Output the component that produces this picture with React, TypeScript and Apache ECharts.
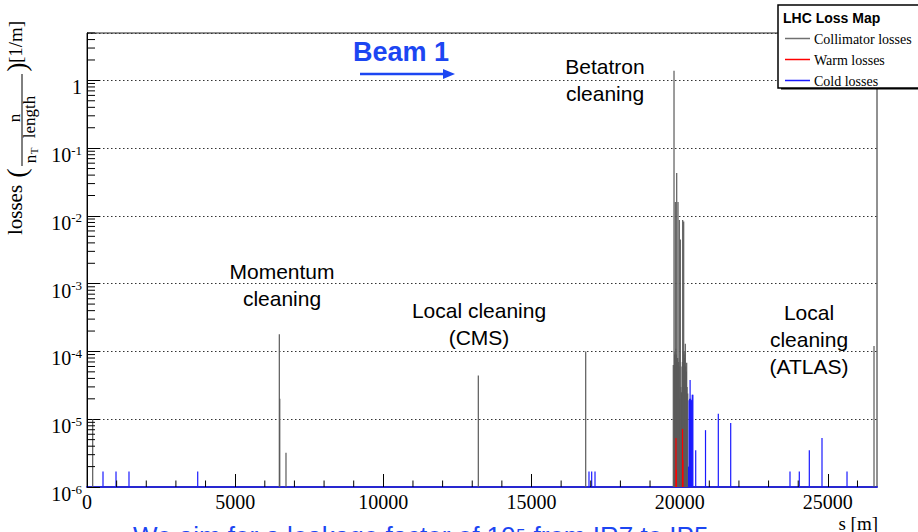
import React, { useEffect, useRef } from 'react';
import * as echarts from 'echarts';

// ---- data (s in metres, losses in 1/m) ----
const S_MAX = 26659;
const Y_MIN = 1e-6;
const Y_MAX = 5;

const collimatorLosses: [number, number][] = [
  [192, 1.0e-5],
  [6490, 1.8e-4],
  [6505, 2.0e-5],
  [6715, 3.2e-6],
  [13205, 4.4e-5],
  [16829, 1.0e-4],
  [19785, 6.3e-5],
  [19809, 1.39],
  [19830, 9e-5],
  [19840, 1e-4],
  [19853, 1.6e-2],
  [19870, 1.1e-4],
  [19890, 9e-5],
  [19900, 4.3e-2],
  [19920, 8e-5],
  [19935, 8e-5],
  [19944, 1.6e-2],
  [19965, 7e-5],
  [19978, 6e-5],
  [19988, 8.7e-3],
  [20005, 2e-5],
  [20022, 4.5e-3],
  [20040, 3e-5],
  [20060, 2.5e-5],
  [20080, 6e-5],
  [20092, 7e-5],
  [20102, 8.7e-3],
  [20120, 1e-4],
  [20136, 8.3e-3],
  [20148, 9e-5],
  [20160, 8e-5],
  [20175, 1e-4],
  [20190, 1.3e-4],
  [20205, 6e-5],
  [20215, 5e-5],
  [20225, 5e-5],
  [20237, 6.8e-5],
  [20250, 3e-5],
  [20271, 2.4e-5],
  [26558, 1.2e-4],
];

const warmLosses: [number, number][] = [
  [19876, 5.3e-6],
  [19890, 1.8e-6],
  [20096, 7.2e-6],
  [20110, 2.5e-6],
];

const coldLosses: [number, number][] = [
  [540, 1.7e-6],
  [979, 1.7e-6],
  [1417, 1.7e-6],
  [3736, 1.7e-6],
  [16940, 1.7e-6],
  [17031, 1.7e-6],
  [17143, 1.7e-6],
  [20300, 2.0e-6],
  [20318, 1.9e-5],
  [20335, 2.0e-5],
  [20352, 3.8e-5],
  [20370, 2.0e-5],
  [20390, 1.9e-5],
  [20408, 1.9e-5],
  [20425, 2.3e-5],
  [20445, 2.3e-5],
  [20541, 3.5e-6],
  [20872, 6.9e-6],
  [21304, 1.2e-5],
  [21722, 8.8e-6],
  [23723, 1.7e-6],
  [24037, 1.7e-6],
  [24375, 3.5e-6],
  [24803, 5.3e-6],
  [25647, 1.7e-6],
];

const xMinorTicks = [1000, 2000, 3000, 4000, 6000, 7000, 8000, 9000, 11000, 12000, 13000, 14000,
  16000, 17000, 18000, 19000, 21000, 22000, 23000, 24000, 26000];
const yDecades = [1e-6, 1e-5, 1e-4, 1e-3, 1e-2, 1e-1, 1];
const yMantissas = [2, 3, 4, 5, 6, 7, 8, 9];

const legendEntries = [
  { name: 'Collimator losses', color: '#707070' },
  { name: 'Warm losses', color: '#ff0000' },
  { name: 'Cold losses', color: '#1a1aff' },
];

const SERIF = '"Liberation Serif", "DejaVu Serif", serif';
const SANS = '"Liberation Sans", Arial, sans-serif';

function spikeSeries(name: string, data: [number, number][], color: string, z: number) {
  return {
    type: 'custom',
    name,
    data,
    z,
    silent: true,
    encode: { x: 0, y: 1 },
    renderItem: (_p: any, api: any) => {
      const s = api.value(0);
      const v = api.value(1);
      const top = api.coord([s, v]);
      const base = api.coord([s, Y_MIN]);
      return {
        type: 'line',
        shape: { x1: top[0], y1: base[1], x2: top[0], y2: top[1] },
        style: { stroke: color, lineWidth: 1.2 },
      };
    },
  };
}

function txt(x: number, y: number, text: string, font: string, fill = '#000', align = 'center', vAlign = 'middle', lineHeight?: number, rotation = 0, z = 50) {
  return {
    type: 'text',
    x,
    y,
    rotation,
    z,
    silent: true,
    style: {
      text,
      font,
      fill,
      align,
      verticalAlign: vAlign,
      textAlign: align,
      textVerticalAlign: vAlign,
      lineHeight,
    },
  };
}

export default function App() {
  const ref = useRef<HTMLDivElement>(null);

  useEffect(() => {
    if (!ref.current) return;
    const chart = echarts.init(ref.current, undefined, { renderer: 'svg' });

    const yMinor: [number, number][] = [];
    yDecades.forEach((d) => yMantissas.forEach((m) => {
      const v = d * m;
      if (v <= Y_MAX) yMinor.push([0, v]);
    }));

    const graphics: any[] = [
      // annotations
      txt(401, 52, 'Beam 1', `bold 27px ${SANS}`, '#1c46f2'),
      { type: 'line', z: 50, silent: true, shape: { x1: 360, y1: 74, x2: 446, y2: 74 }, style: { stroke: '#1c46f2', lineWidth: 2.5 } },
      { type: 'polygon', z: 50, silent: true, shape: { points: [[443, 69], [455, 74], [443, 79]] }, style: { fill: '#1c46f2' } },
      txt(605, 80, 'Betatron\ncleaning', `21px ${SANS}`, '#000', 'center', 'middle', 27),
      txt(282, 285, 'Momentum\ncleaning', `21px ${SANS}`, '#000', 'center', 'middle', 27),
      txt(479, 324, 'Local cleaning\n(CMS)', `21px ${SANS}`, '#000', 'center', 'middle', 27),
      txt(809, 339, 'Local\ncleaning\n(ATLAS)', `21px ${SANS}`, '#000', 'center', 'middle', 27),
      // bottom caption (cut off by the page edge, as in the reference)
      txt(133, 523, 'We aim for a leakage factor of 10⁵ from IR7 to IP5', `26px ${SANS}`, '#1c46f2', 'left', 'top'),
      // x axis name
      txt(878, 523, 's [m]', `19px ${SERIF}`, '#000', 'right', 'middle', 18),
      // y axis name pieces (rotated)
      txt(15, 210, 'losses', `21px ${SERIF}`, '#000', 'center', 'middle', undefined, Math.PI / 2),
      txt(16, 173, '(', `28px ${SERIF}`, '#000', 'center', 'middle', undefined, Math.PI / 2),
      txt(14, 118, 'n', `17px ${SERIF}`, '#000', 'center', 'middle', undefined, Math.PI / 2),
      { type: 'line', z: 50, silent: true, shape: { x1: 22, y1: 74, x2: 22, y2: 166 }, style: { stroke: '#000', lineWidth: 1 } },
      txt(30, 159, 'n', `17px ${SERIF}`, '#000', 'center', 'middle', undefined, Math.PI / 2),
      txt(34, 151, 'T', `11px ${SERIF}`, '#000', 'center', 'middle', undefined, Math.PI / 2),
      txt(29, 117, 'length', `17px ${SERIF}`, '#000', 'center', 'middle', undefined, Math.PI / 2),
      txt(16, 67, ')', `28px ${SERIF}`, '#000', 'center', 'middle', undefined, Math.PI / 2),
      txt(15, 42, '[1/m]', `19px ${SERIF}`, '#000', 'center', 'middle', undefined, Math.PI / 2),
      // legend
      { type: 'rect', z: 100, silent: true, shape: { x: 781, y: 87, width: 140, height: 2.5 }, style: { fill: '#000' } },
      { type: 'rect', z: 100, silent: true, shape: { x: 778, y: 5, width: 150, height: 83 }, style: { fill: '#fff', stroke: '#000', lineWidth: 1.5 } },
      txt(783, 18, 'LHC Loss Map', `bold 14px ${SANS}`, '#000', 'left', 'middle', undefined, 0, 101),
    ];
    legendEntries.forEach((e, i) => {
      const y = 38.5 + i * 21;
      graphics.push({ type: 'line', z: 101, silent: true, shape: { x1: 785, y1: y, x2: 810, y2: y }, style: { stroke: e.color, lineWidth: 1.5 } });
      graphics.push(txt(814, y + 1, e.name, `14px ${SERIF}`, '#000', 'left', 'middle', undefined, 0, 101));
    });

    chart.setOption({
      animation: false,
      backgroundColor: '#fff',
      grid: { left: 87, top: 33, right: 41, bottom: 45, show: true, borderColor: '#222', borderWidth: 1, backgroundColor: 'transparent' },
      xAxis: {
        type: 'value',
        min: 0,
        max: S_MAX,
        interval: 5000,
        axisLine: { show: true, lineStyle: { color: '#2828d0', width: 2 } },
        axisTick: { show: true, inside: true, length: 13, lineStyle: { color: '#000', width: 1 } },
        axisLabel: { show: true, fontFamily: SERIF, fontSize: 20, lineHeight: 18, color: '#000', margin: 6, showMaxLabel: false, formatter: (v: number) => String(v) },
        splitLine: { show: false },
      },
      yAxis: {
        type: 'log',
        logBase: 10,
        min: Y_MIN,
        max: Y_MAX,
        axisLine: { show: true, onZero: false, lineStyle: { color: '#000', width: 1 } },
        axisTick: { show: true, inside: true, length: 13, lineStyle: { color: '#000', width: 1 } },
        axisLabel: {
          show: true,
          margin: 5,
          showMaxLabel: false,
          padding: [14, 0, 0, 0],
          formatter: (v: number) => {
            const e = Math.round(Math.log10(v));
            if (Math.abs(v - Math.pow(10, e)) > 1e-6 * Math.pow(10, e)) return '';
            if (e === 0) return '{m|1}';
            return `{m|10}{e|${e}}`;
          },
          rich: {
            m: { fontFamily: SERIF, fontSize: 20, color: '#000' },
            e: { fontFamily: SERIF, fontSize: 13, color: '#000', padding: [0, 0, 10, 0] },
          },
        },
        splitLine: { show: true, lineStyle: { color: '#333', width: 1, type: [1.5, 2.5] } },
      },
      graphic: graphics,
      series: [
        spikeSeries('Collimator losses', collimatorLosses, '#5a5a5a', 3),
        spikeSeries('Warm losses', warmLosses, '#ff0000', 4),
        spikeSeries('Cold losses', coldLosses, '#1a1aff', 5),
        {
          type: 'custom',
          name: 'yMinorTicks',
          data: yMinor,
          silent: true,
          z: 6,
          renderItem: (_p: any, api: any) => {
            const p = api.coord([0, api.value(1)]);
            return { type: 'line', shape: { x1: p[0], y1: p[1], x2: p[0] + 8, y2: p[1] }, style: { stroke: '#000', lineWidth: 1 } };
          },
        },
        {
          type: 'custom',
          name: 'xMinorTicks',
          data: xMinorTicks.map((s) => [s, Y_MIN]),
          silent: true,
          z: 6,
          renderItem: (_p: any, api: any) => {
            const p = api.coord([api.value(0), Y_MIN]);
            return { type: 'line', shape: { x1: p[0], y1: p[1], x2: p[0], y2: p[1] - 6.5 }, style: { stroke: '#000', lineWidth: 1 } };
          },
        },
      ],
    });

    return () => chart.dispose();
  }, []);

  return <div ref={ref} style={{ position: 'absolute', left: 0, top: 0, width: 918, height: 532 }} />;
}
